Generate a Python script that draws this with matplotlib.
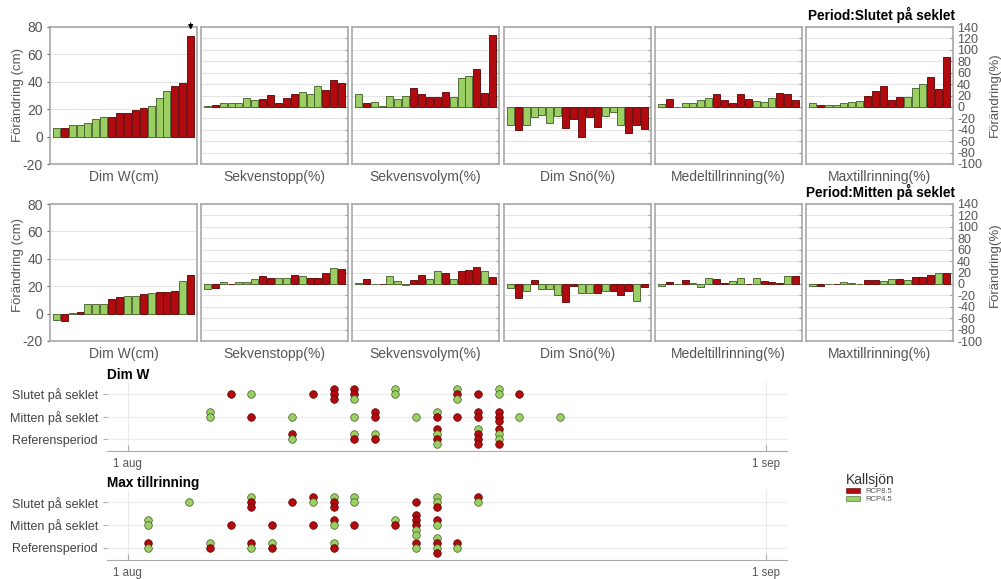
import matplotlib
matplotlib.use("Agg")
import matplotlib.pyplot as plt
from matplotlib.patches import Patch

plt.rcParams['font.family'] = ['Liberation Sans', 'DejaVu Sans']
plt.rcParams['axes.unicode_minus'] = False

# ---- data ----
variables = ["Dim W(cm)", "Sekvenstopp(%)", "Sekvensvolym(%)", "Dim Snö(%)",
             "Medeltillrinning(%)", "Maxtillrinning(%)"]
# G = RCP4.5, R = RCP8.5
top_scen = "GRGGGGGRRRRRGGGRRR"
mid_scen = "GRGRGGGRRGGRGRRRGR"

top_dimw = [6.5, 6.3, 8.2, 8.7, 10.2, 12.6, 14.0, 14.3, 17.2, 17.2, 19.4, 20.8, 22.3, 27.9, 33.5, 36.8, 39.3, 73.2]
top_sekvenstopp = [2.3, 3.5, 6.4, 7.6, 6.4, 16.3, 12.8, 14.0, 20.4, 7.6, 15.2, 22.7, 26.2, 22.2, 36.2, 30.3, 47.8, 42.0]
top_sekvensvolym = [22.2, 7.0, 8.7, 2.3, 19.8, 14.0, 19.8, 32.7, 23.3, 16.9, 16.9, 26.2, 16.9, 51.3, 54.8, 67.0, 24.5, 126.5]
top_dimsno = [-31.5, -39.7, -30.9, -18.0, -13.4, -27.4, -16.3, -36.7, -20.4, -52.5, -17.5, -35.0, -15.7, -9.3, -30.9, -46.0, -31.5, -37.9]
top_medel = [5.2, 14.6, -0.5, 6.4, 6.4, 11.7, 16.3, 22.2, 12.8, 6.4, 22.2, 14.0, 10.5, 9.3, 16.3, 24.5, 22.2, 12.8]
top_max = [7.0, 3.5, 3.5, 3.5, 7.6, 8.7, 11.1, 19.8, 28.0, 36.2, 12.8, 16.9, 16.9, 32.7, 39.7, 53.0, 30.9, 87.5]

mid_dimw = [-4.6, -5.1, 0.3, 1.3, 7.0, 7.1, 7.1, 11.0, 11.8, 12.9, 12.9, 14.5, 15.2, 15.6, 15.6, 16.5, 24.0, 28.1]
mid_sekvenstopp = [-9.4, -7.6, 3.5, 0.3, 2.6, 3.2, 8.7, 13.3, 9.6, 10.4, 10.4, 16.2, 13.9, 10.7, 9.6, 19.1, 28.1, 25.5]
mid_sekvensvolym = [2.0, 9.0, 0.3, 0.3, 13.0, 4.3, -1.4, 7.5, 15.7, 7.8, 23.5, 18.6, 9.0, 23.5, 24.6, 29.6, 23.2, 12.5]
mid_dimsno = [-6.4, -25.5, -12.2, 6.4, -8.1, -8.1, -19.1, -31.3, -2.9, -15.1, -15.1, -15.1, -11.6, -11.6, -18.6, -12.2, -29.6, -5.8]
mid_medel = [-3.5, 2.6, 0.2, 7.0, 1.5, -4.6, 10.4, 7.8, 1.2, 4.6, 9.6, -0.8, 9.6, 5.5, 3.8, 0.9, 14.5, 13.0]
mid_max = [-3.5, -2.9, 0.6, -0.6, 2.9, 2.3, 0.6, 6.4, 6.4, 5.8, 8.7, 9.3, 6.4, 12.8, 12.8, 15.1, 19.7, 19.1]

periods = ["Referensperiod", "Mitten på seklet", "Slutet på seklet"]
# timing: (day after 1 aug, scenarios stacked top -> bottom)
dimw_slut = [(5, "R"), (6, "G"), (9, "R"), (10, "RRR"), (11, "RRG"), (13, "GG"),
             (16, "GRG"), (17, "R"), (18, "GG"), (19, "R")]
dimw_mitt = [(4, "GG"), (6, "R"), (8, "G"), (11, "G"), (12, "RR"), (14, "G"), (15, "GR"),
             (16, "R"), (17, "RR"), (18, "RRR"), (19, "G"), (21, "G")]
dimw_ref = [(8, "RG"), (11, "GR"), (12, "GR"), (15, "RGRG"), (17, "GRRR"), (18, "RGGR")]

maxt_slut = [(3, "G"), (6, "GRR"), (8, "R"), (9, "RG"), (10, "GRR"), (11, "GG"),
             (14, "R"), (15, "GGR"), (17, "RG")]
maxt_mitt = [(1, "GG"), (5, "R"), (7, "R"), (9, "R"), (10, "RG"), (11, "R"),
             (13, "GR"), (14, "RRRGG"), (15, "RG")]
maxt_ref = [(1, "RG"), (4, "GR"), (6, "RG"), (7, "GR"), (10, "GR"), (14, "RG"),
            (15, "GRGR"), (16, "RG")]

RED = "#b20b0f"
GREEN = "#9bcf63"
fill = {"R": RED, "G": GREEN}
edge = {"R": "#5a0000", "G": "#3f5a25"}

W, H = 1001, 579
fig = plt.figure(figsize=(W / 100, H / 100), dpi=100)


def px_axes(x0, y0, x1, y1):
    return fig.add_axes([x0 / W, 1 - y1 / H, (x1 - x0) / W, (y1 - y0) / H])


def bar_row(vals_list, scen, ytop, ybot, title, ylab_y):
    cols = [(50, 197), (201, 348), (352, 499), (504, 651), (655, 802), (806, 953)]
    axes = []
    for i, ((x0, x1), vals) in enumerate(zip(cols, vals_list)):
        ax = px_axes(x0, ytop, x1, ybot)
        ax.bar(range(len(vals)), vals, width=0.88,
               color=[fill[s] for s in scen], edgecolor=[edge[s] for s in scen],
               linewidth=0.6, zorder=3)
        ax.set_xlim(-0.8, len(vals) - 0.2)
        ax.set_xticks([])
        if i == 0:
            ax.set_ylim(-20, 80)
            ax.set_yticks(range(-20, 81, 20))
            ax.tick_params(axis='y', labelsize=10, colors='#555', length=2, pad=3)
        else:
            ax.set_ylim(-100, 140)
            ax.set_yticks(range(-100, 141, 20))
            ax.tick_params(axis='y', left=False, right=True, direction='in', length=2,
                           color='#999', labelleft=False, labelright=(i == 5),
                           labelsize=9, labelcolor='#555', pad=3)
        ax.grid(axis='y', color='#e4e4e4', lw=0.8, zorder=0)
        for sp in ax.spines.values():
            sp.set_color('#a8a8a8')
            sp.set_linewidth(1.2)
        ax.set_xlabel(variables[i], fontsize=10, color='#555', labelpad=4)
        axes.append(ax)
    fig.text(955 / W, 1 - (ytop - 12) / H, title, ha='right', va='center',
             fontsize=9.8, fontweight='bold')
    fig.text(18 / W, 1 - ylab_y / H, "Förändring (cm)", rotation=90, ha='center',
             va='center', fontsize=9.5, color='#555')
    fig.text(995 / W, 1 - ylab_y / H, "Förändring(%)", rotation=90, ha='center',
             va='center', fontsize=9.5, color='#555')
    return axes


top_axes = bar_row([top_dimw, top_sekvenstopp, top_sekvensvolym, top_dimsno, top_medel, top_max],
                   top_scen, 27, 164, "Period:Slutet på seklet", 95)
top_axes[0].annotate('', xy=(17, 76), xytext=(17, 85),
                     arrowprops=dict(arrowstyle='-|>', color='black', lw=0.8,
                                     mutation_scale=7),
                     annotation_clip=False)
bar_row([mid_dimw, mid_sekvenstopp, mid_sekvensvolym, mid_dimsno, mid_medel, mid_max],
        mid_scen, 204, 341, "Period:Mitten på seklet", 265)


def dot_panel(ytop, ybot, rows, title):
    ax = px_axes(107, ytop, 787, ybot)
    step = 0.22
    for r, row in enumerate(rows, start=1):
        for day, stack in row:
            n = len(stack)
            for j, s in enumerate(stack):
                y = r - (j - n // 2) * step
                ax.scatter(day, y, s=30, color=fill[s], edgecolor=edge[s],
                           linewidth=0.5, zorder=3)
    ax.set_xlim(-1, 32)
    ax.set_ylim(0.47, 3.53)
    ax.set_yticks([1, 2, 3])
    ax.set_yticklabels(periods)
    ax.set_xticks([0, 31])
    ax.set_xticklabels(["1 aug", "1 sep"])
    ax.tick_params(axis='y', labelsize=9, labelcolor='#444', length=3, color='#aaa')
    ax.tick_params(axis='x', labelsize=8.3, labelcolor='#555', direction='in',
                   length=4, color='#aaa', pad=5)
    ax.grid(color='#ebebeb', lw=0.8, zorder=0)
    for k in ('top', 'right', 'left'):
        ax.spines[k].set_visible(False)
    ax.spines['bottom'].set_color('#aaa')
    ax.set_title(title, loc='left', fontsize=9.8, fontweight='bold', pad=1)
    return ax


dot_panel(382, 451, [dimw_ref, dimw_mitt, dimw_slut], "Dim W")
dot_panel(490, 560, [maxt_ref, maxt_mitt, maxt_slut], "Max tillrinning")

handles = [Patch(facecolor=RED, edgecolor=edge["R"], lw=0.4, label="RCP8.5"),
           Patch(facecolor=GREEN, edgecolor=edge["G"], lw=0.4, label="RCP4.5")]
leg = fig.legend(handles=handles, title="Kallsjön", loc='upper left',
                 bbox_to_anchor=(841 / W, 1 - 468 / H), frameon=False,
                 fontsize=5.5, title_fontsize=10, handlelength=1.8, handleheight=0.6,
                 labelspacing=0.1, handletextpad=0.7, borderpad=0.2)
leg._legend_box.align = "left"
for t in leg.get_texts():
    t.set_color('#555')
leg.get_title().set_color('#333')

fig.savefig("out.png", dpi=100)
